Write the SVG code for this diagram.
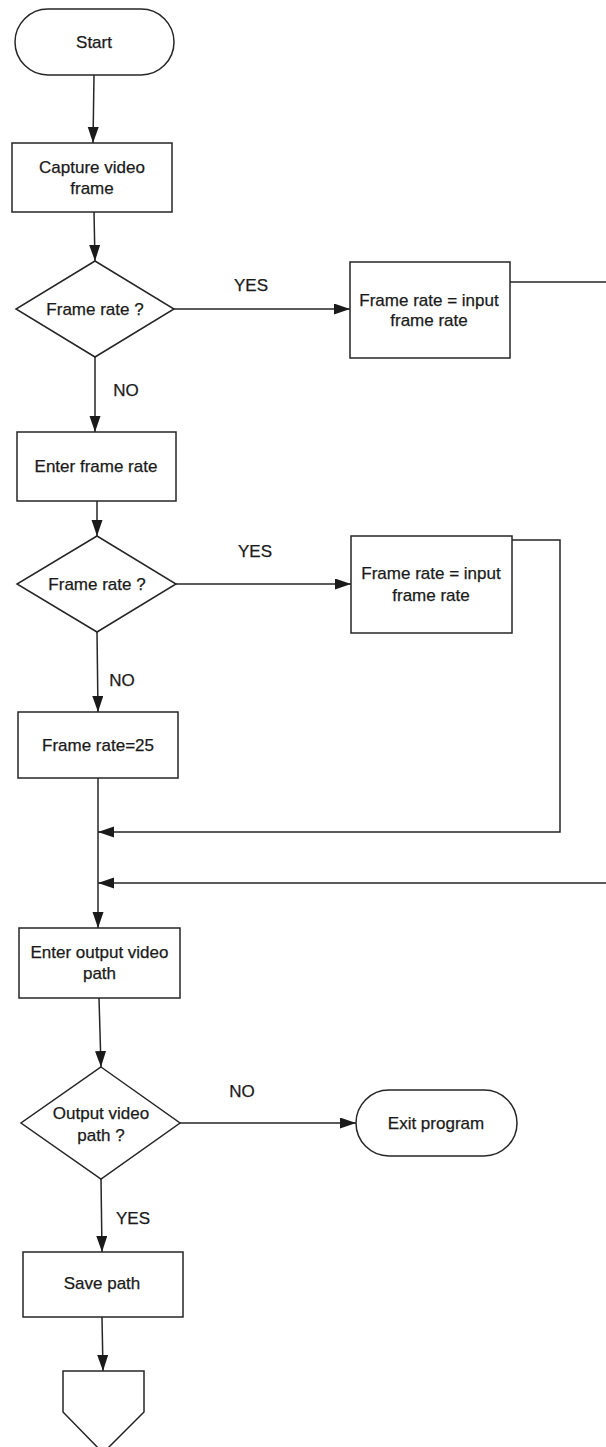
<svg xmlns="http://www.w3.org/2000/svg" width="606" height="1447" viewBox="0 0 606 1447">
<style>
.shape{fill:#fff;stroke:#262626;stroke-width:1.5}
.conn{fill:none;stroke:#262626;stroke-width:1.5}
text{font-family:"Liberation Sans",Arial,sans-serif;font-size:17px;fill:#1a1a1a;stroke:#1a1a1a;stroke-width:0.25;text-anchor:middle}
</style>
<defs>
<marker id="arr" markerUnits="userSpaceOnUse" markerWidth="18" markerHeight="12" refX="16" refY="5.5" orient="auto">
<path d="M0,0 L16,5.5 L0,11 z" fill="#1a1a1a"/>
</marker>
</defs>
<rect width="606" height="1447" fill="#fff"/>
<g id="connectors">
<path class="conn" d="M94,75 L93,143" marker-end="url(#arr)"/>
<path class="conn" d="M94,212 L95,261" marker-end="url(#arr)"/>
<path class="conn" d="M174,309 L350,309" marker-end="url(#arr)"/>
<path class="conn" d="M95,357 L95,432" marker-end="url(#arr)"/>
<path class="conn" d="M97,501 L97,536" marker-end="url(#arr)"/>
<path class="conn" d="M176,584 L351,584" marker-end="url(#arr)"/>
<path class="conn" d="M97,632 L98,712" marker-end="url(#arr)"/>
<path class="conn" d="M98,778 L98,928" marker-end="url(#arr)"/>
<path class="conn" d="M512,540 H560 V832 H98" marker-end="url(#arr)"/>
<path class="conn" d="M510,282 H620 V883 H98" marker-end="url(#arr)"/>
<path class="conn" d="M99,998 L101,1067" marker-end="url(#arr)"/>
<path class="conn" d="M180,1123 L356,1123" marker-end="url(#arr)"/>
<path class="conn" d="M101,1179 L102,1252" marker-end="url(#arr)"/>
<path class="conn" d="M102,1317 L103,1371" marker-end="url(#arr)"/>
<text x="251" y="291">YES</text>
<text x="126" y="396">NO</text>
<text x="255" y="557">YES</text>
<text x="122" y="686">NO</text>
<text x="242" y="1097">NO</text>
<text x="133" y="1224">YES</text>
</g>
<g id="start">
<rect class="shape" x="15" y="9" width="159" height="66" rx="33"/>
<text x="94" y="48">Start</text>
</g>
<g id="capture">
<rect class="shape" x="12" y="143" width="160" height="69"/>
<text x="92" y="173">Capture video</text>
<text x="92" y="194">frame</text>
</g>
<g id="decision1">
<polygon class="shape" points="95,261 174,309 95,357 16,309"/>
<text x="95" y="315">Frame rate ?</text>
</g>
<g id="input1">
<rect class="shape" x="350" y="262" width="160" height="96"/>
<text x="429" y="306">Frame rate = input</text>
<text x="429" y="326">frame rate</text>
</g>
<g id="enterrate">
<rect class="shape" x="17" y="432" width="159" height="69"/>
<text x="96" y="472">Enter frame rate</text>
</g>
<g id="decision2">
<polygon class="shape" points="97,536 176,584 97,632 17,584"/>
<text x="97" y="590">Frame rate ?</text>
</g>
<g id="input2">
<rect class="shape" x="351" y="536" width="161" height="97"/>
<text x="431" y="579">Frame rate = input</text>
<text x="431" y="601">frame rate</text>
</g>
<g id="default">
<rect class="shape" x="18" y="712" width="160" height="66"/>
<text x="98" y="751">Frame rate=25</text>
</g>
<g id="enterpath">
<rect class="shape" x="19" y="928" width="161" height="70"/>
<text x="99.5" y="958">Enter output video</text>
<text x="99.5" y="979">path</text>
</g>
<g id="decision3">
<polygon class="shape" points="101,1067 180,1123 101,1179 21,1123"/>
<text x="101" y="1119">Output video</text>
<text x="101" y="1141">path ?</text>
</g>
<g id="exit">
<rect class="shape" x="356" y="1090" width="161" height="66" rx="33"/>
<text x="436" y="1129">Exit program</text>
</g>
<g id="save">
<rect class="shape" x="23" y="1252" width="160" height="65"/>
<text x="102" y="1289">Save path</text>
</g>
<g id="offpage">
<polygon class="shape" points="63,1371 144,1371 144,1412 103,1453 63,1412"/>
</g>
</svg>
